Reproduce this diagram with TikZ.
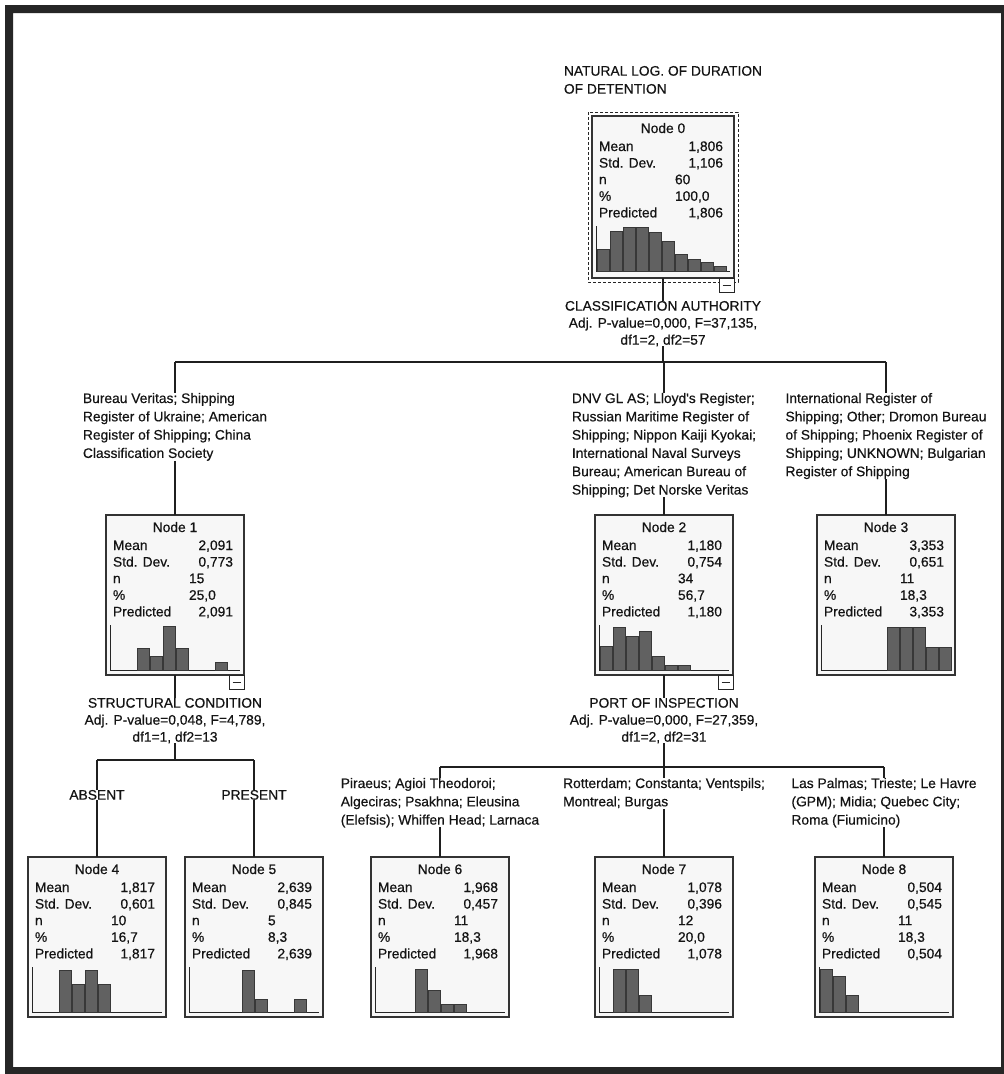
\documentclass[tikz,border=0pt]{standalone}
\usepackage{fontspec}
\setmainfont{Liberation Sans}
\newfontfamily\scanfont{Liberation Sans}[FakeBold=0.45]
\newcommand\statnode[8]{%
 \node[txt, anchor=base] (#1-title) at ([shift={(0,17)}]#1.north) {#2};
 \node[txt, anchor=base west] (#1-l1) at ([shift={(7,35)}]#1.north west) {Mean};
 \node[txt, anchor=base west] (#1-l2) at ([shift={(7,51.6)}]#1.north west) {Std. Dev.};
 \node[txt, anchor=base west] (#1-l3) at ([shift={(7,68.2)}]#1.north west) {n};
 \node[txt, anchor=base west] (#1-l4) at ([shift={(7,84.8)}]#1.north west) {\%};
 \node[txt, anchor=base west] (#1-l5) at ([shift={(7,101.4)}]#1.north west) {Predicted};
 \node[txt, anchor=base east] (#1-v1) at ([shift={(-11,35)}]#1.north east) {#3};
 \node[txt, anchor=base east] (#1-v2) at ([shift={(-11,51.6)}]#1.north east) {#4};
 \node[txt, anchor=base west] (#1-v3) at ([shift={(83,68.2)}]#1.north west) {#5};
 \node[txt, anchor=base west] (#1-v4) at ([shift={(83,84.8)}]#1.north west) {#6};
 \node[txt, anchor=base east] (#1-v5) at ([shift={(-11,101.4)}]#1.north east) {#7};
 \draw[axis] ([shift={(4,110)}]#1.north west) |- ([shift={(-4,155)}]#1.north east);
 \foreach \s/\hh in {#8} \filldraw[bar] ([shift={({5.5+13*\s},155)}]#1.north west) rectangle ++(11.5,-\hh);
}
\begin{document}
\begin{tikzpicture}[x=1pt,y=-1pt,
 txt/.style={font=\scanfont\fontsize{13.8}{17}\selectfont, text=black!92, inner sep=0pt, outer sep=0pt},
 lbl/.style={txt, font=\scanfont\fontsize{13.8}{18.3}\selectfont, align=left, anchor=north},
 splitlbl/.style={txt, align=center, anchor=north},
 statbox/.style={draw=black!80, line width=1.3pt, fill=black!3, inner sep=0pt, outer sep=0pt, minimum width=138pt, minimum height=160pt, anchor=north west},
 conn/.style={draw=black!88, line width=1.3pt},
 axis/.style={draw=black!85, line width=0.9pt},
 bar/.style={fill=black!62, draw=black!78, line width=0.5pt},
 minus/.style={draw=black!85, line width=1pt, fill=white, minimum width=15pt, minimum height=14pt, inner sep=0pt, outer sep=0pt,
   path picture={\draw[line width=1pt] ([xshift=-4pt]path picture bounding box.center) -- ([xshift=4pt]path picture bounding box.center);}},
 focus/.style={draw=black!85, line width=1pt, dash pattern=on 3pt off 2pt}
]
\fill[white] (0,0) rectangle (1004,1074);
\fill[black!85, even odd rule] (5,5) rectangle (1004,1074) (13,13) rectangle (1001,1067);
\useasboundingbox (0,0) rectangle (1004,1074);

% root
\node[lbl, font=\scanfont\fontsize{13.8}{18}\selectfont] (t0) at (663,66) {NATURAL LOG. OF DURATION\\OF DETENTION};
\node[statbox, minimum width=142pt, minimum height=162pt, line width=1.8pt] (n0) at (592,116) {};
\statnode{n0}{Node 0}{1,806}{1,106}{60}{100,0}{1,806}{0/22,1/40,2/44,3/44,4/39,5/30,6/17,7/12,8/9,9/5}
\draw[focus] ([shift={(-4,-4)}]n0.north west) rectangle ([shift={(4,4)}]n0.south east);
\node[minus, anchor=north east] (n0m) at (n0.south east) {};

\node[splitlbl] (s0) at (663,301) {CLASSIFICATION AUTHORITY\\Adj. P-value=0,000, F=37,135,\\df1=2, df2=57};
\coordinate (b0) at (663,362);

% level 1 labels
\node[lbl] (e1) at (175,393) {Bureau Veritas; Shipping\\Register of Ukraine; American\\Register of Shipping; China\\Classification Society};
\node[lbl] (e2) at (664,393) {DNV GL AS; Lloyd's Register;\\Russian Maritime Register of\\Shipping; Nippon Kaiji Kyokai;\\International Naval Surveys\\Bureau; American Bureau of\\Shipping; Det Norske Veritas};
\node[lbl] (e3) at (886,393) {International Register of\\Shipping; Other; Dromon Bureau\\of Shipping; Phoenix Register of\\Shipping; UNKNOWN; Bulgarian\\Register of Shipping};

% level 1 nodes
\node[statbox] (n1) at (106,515) {};
\statnode{n1}{Node 1}{2,091}{0,773}{15}{25,0}{2,091}{2/22,3/14,4/44,5/22,8/8}
\node[minus, anchor=north east] (n1m) at (n1.south east) {};
\node[statbox] (n2) at (595,515) {};
\statnode{n2}{Node 2}{1,180}{0,754}{34}{56,7}{1,180}{0/24,1/43,2/34,3/39,4/14,5/5,6/5}
\node[minus, anchor=north east] (n2m) at (n2.south east) {};
\node[statbox] (n3) at (817,515) {};
\statnode{n3}{Node 3}{3,353}{0,651}{11}{18,3}{3,353}{5/43,6/43,7/43,8/23,9/23}

% splits of level 1
\node[splitlbl] (s1) at (175,698) {STRUCTURAL CONDITION\\Adj. P-value=0,048, F=4,789,\\df1=1, df2=13};
\node[splitlbl] (s2) at (664,698) {PORT OF INSPECTION\\Adj. P-value=0,000, F=27,359,\\df1=2, df2=31};
\coordinate (b1) at (175,760);
\coordinate (b2) at (664,767);

% level 2 labels
\node[lbl] (e4) at (97,790) {ABSENT};
\node[lbl] (e5) at (254,790) {PRESENT};
\node[lbl] (e6) at (440,778) {Piraeus; Agioi Theodoroi;\\Algeciras; Psakhna; Eleusina\\(Elefsis); Whiffen Head; Larnaca};
\node[lbl] (e7) at (664,778) {Rotterdam; Constanta; Ventspils;\\Montreal; Burgas};
\node[lbl] (e8) at (884,778) {Las Palmas; Trieste; Le Havre\\(GPM); Midia; Quebec City;\\Roma (Fiumicino)};

% level 2 nodes
\node[statbox] (n4) at (28,857) {};
\statnode{n4}{Node 4}{1,817}{0,601}{10}{16,7}{1,817}{2/42,3/28,4/42,5/28}
\node[statbox] (n5) at (185,857) {};
\statnode{n5}{Node 5}{2,639}{0,845}{5}{8,3}{2,639}{4/42,5/13,8/13}
\node[statbox] (n6) at (371,857) {};
\statnode{n6}{Node 6}{1,968}{0,457}{11}{18,3}{1,968}{3/43,4/22,5/8,6/8}
\node[statbox] (n7) at (595,857) {};
\statnode{n7}{Node 7}{1,078}{0,396}{12}{20,0}{1,078}{1/43,2/43,3/17}
\node[statbox] (n8) at (815,857) {};
\statnode{n8}{Node 8}{0,504}{0,545}{11}{18,3}{0,504}{0/43,1/36,2/17}

% connectors
\draw[conn] (n0.south) -- (s0.north);
\draw[conn] (s0.south) -- (b0);
\draw[conn] (e1.north |- b0) -- (e3.north |- b0);
\draw[conn] (e1.north |- b0) -- (e1.north);
\draw[conn] (e2.north |- b0) -- (e2.north);
\draw[conn] (e3.north |- b0) -- (e3.north);
\draw[conn] (e1.south) -- (n1.north);
\draw[conn] (e2.south) -- (n2.north);
\draw[conn] (e3.south) -- (n3.north);

\draw[conn] (n1.south) -- (s1.north);
\draw[conn] (s1.south) -- (b1);
\draw[conn] (e4.north |- b1) -- (e5.north |- b1);
\draw[conn] (e4.north |- b1) -- (e4.north);
\draw[conn] (e5.north |- b1) -- (e5.north);
\draw[conn] (e4.south) -- (n4.north);
\draw[conn] (e5.south) -- (n5.north);

\draw[conn] (n2.south) -- (s2.north);
\draw[conn] (s2.south) -- (b2);
\draw[conn] (e6.north |- b2) -- (e8.north |- b2);
\draw[conn] (e6.north |- b2) -- (e6.north);
\draw[conn] (e7.north |- b2) -- (e7.north);
\draw[conn] (e8.north |- b2) -- (e8.north);
\draw[conn] (e6.south) -- (n6.north);
\draw[conn] (e7.south) -- (n7.north);
\draw[conn] (e8.south) -- (n8.north);
\end{tikzpicture}
\end{document}
